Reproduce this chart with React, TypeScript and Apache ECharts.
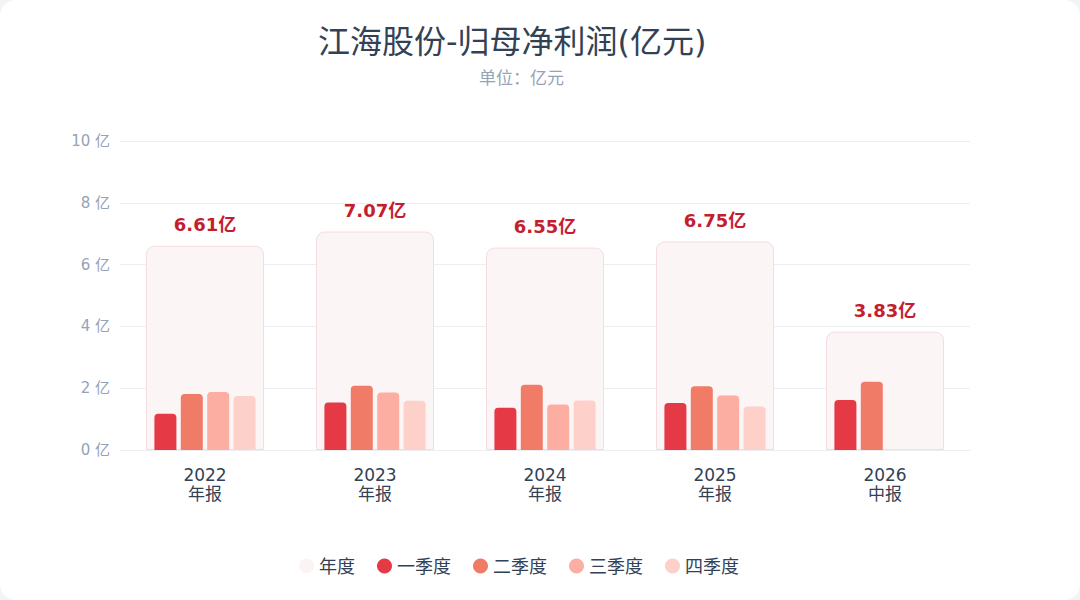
import React, { useEffect, useRef } from "react";
import * as echarts from "echarts";

const categories = ["2022\n年报", "2023\n年报", "2024\n年报", "2025\n年报", "2026\n中报"];
const annual = [6.61, 7.07, 6.55, 6.75, 3.83];
const q1 = [1.17, 1.54, 1.37, 1.52, 1.62];
const q2 = [1.81, 2.08, 2.11, 2.06, 2.21];
const q3 = [1.88, 1.86, 1.47, 1.76, null];
const q4 = [1.75, 1.59, 1.6, 1.41, null];
const yTicks = [0, 2, 4, 6, 8, 10];

const FONT = "'DejaVu Sans', 'Noto Sans CJK SC', sans-serif";

export default function App() {
  const ref = useRef<HTMLDivElement>(null);
  useEffect(() => {
    document.body.style.margin = "0";
    document.body.style.background = "#f3f4f6";
    const chart = echarts.init(ref.current!, undefined, { renderer: "svg" });
    const qColors = ["#e63946", "#f07b67", "#fcaea2", "#fdd0ca"];
    const qNames = ["一季度", "二季度", "三季度", "四季度"];
    const qData = [q1, q2, q3, q4];
    chart.setOption({
      animation: false,
      textStyle: { fontFamily: FONT },
      title: [
        {
          text: "江海股份-归母净利润(亿元)",
          left: 313,
          top: 21,
          textStyle: { fontSize: 32, fontWeight: "normal", color: "#334155", fontFamily: FONT },
        },
        {
          text: "单位：亿元",
          left: 474,
          top: 64,
          textStyle: { fontSize: 17, fontWeight: "normal", color: "#94a3b8", fontFamily: FONT },
        },
      ],
      legend: {
        bottom: 20,
        left: 294,
        icon: "circle",
        itemWidth: 15,
        itemHeight: 15,
        itemGap: 22,
        textStyle: { fontSize: 18, color: "#334155", fontFamily: FONT },
        data: [
          { name: "年度", itemStyle: { borderWidth: 0, color: "#fcf3f4" } },
          ...qNames,
        ],
      },
      grid: { left: 120, right: 110, top: 141, bottom: 150 },
      xAxis: [
        {
          type: "category",
          data: categories,
          axisLine: { show: true, lineStyle: { color: "#eceef3" } },
          axisTick: { show: false },
          axisLabel: { fontSize: 17, color: "#334155", lineHeight: 19, margin: 15 },
        },
        {
          type: "category",
          data: categories,
          show: false,
        },
      ],
      yAxis: {
        type: "value",
        min: yTicks[0],
        max: yTicks[yTicks.length - 1],
        interval: 2,
        axisLine: { show: false },
        axisTick: { show: false },
        splitLine: { lineStyle: { color: "#eceef3" } },
        axisLabel: { fontSize: 15, color: "#94a3b8", margin: 10, formatter: (v: number) => `${v} 亿` },
      },
      series: [
        {
          name: "年度",
          type: "bar",
          xAxisIndex: 1,
          data: annual,
          barWidth: 118,
          z: 1,
          itemStyle: {
            color: "#fcf5f6",
            borderColor: "#f6dbe0",
            borderWidth: 1,
            borderRadius: [8, 8, 0, 0],
          },
          label: {
            show: true,
            position: "top",
            distance: 12,
            formatter: (p: any) => `${p.value.toFixed(2)}亿`,
            fontSize: 18,
            fontWeight: "bold",
            color: "#c41e2e",
          },
        },
        ...qNames.map((name, i) => ({
          name,
          type: "bar",
          xAxisIndex: 0,
          data: qData[i],
          barWidth: 22,
          barGap: "20%",
          z: 2,
          itemStyle: { color: qColors[i], borderRadius: [4, 4, 0, 0] },
        })),
      ],
    });
    return () => chart.dispose();
  }, []);
  return (
    <div
      style={{
        width: 1080,
        height: 600,
        background: "#ffffff",
        borderRadius: 16,
        overflow: "hidden",
      }}
    >
      <div ref={ref} style={{ width: 1080, height: 600 }} />
    </div>
  );
}
